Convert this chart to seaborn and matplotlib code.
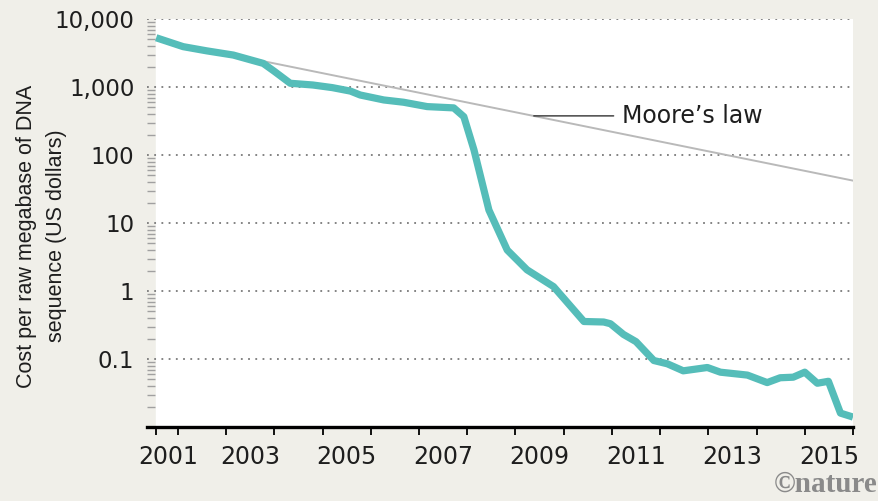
import numpy as np
import pandas as pd
import matplotlib.pyplot as plt
import seaborn as sns
from matplotlib.ticker import LogLocator, NullFormatter

# cost per raw megabase of DNA sequence (US dollars)
years = [2001.55, 2002.11, 2002.6, 2003.15, 2003.77, 2004.0, 2004.33, 2004.8,
         2005.2, 2005.58, 2005.78, 2006.27, 2006.68, 2007.17, 2007.72, 2007.93,
         2008.14, 2008.45, 2008.83, 2009.24, 2009.79, 2010.42, 2010.83, 2010.97,
         2011.24, 2011.5, 2011.87, 2012.15, 2012.48, 2012.98, 2013.25, 2013.81,
         2014.22, 2014.49, 2014.76, 2015.0, 2015.26, 2015.49, 2015.74, 2016.0]
cost = [5300, 3920, 3400, 2950, 2225, 1700, 1135, 1070,
        980, 870, 763, 645, 597, 515, 493, 366,
        119, 15.5, 4.0, 2.05, 1.16, 0.356, 0.35, 0.33,
        0.23, 0.18, 0.095, 0.085, 0.067, 0.075, 0.064, 0.058,
        0.045, 0.053, 0.054, 0.064, 0.044, 0.047, 0.016, 0.014]

# Moore's law reference line (halving roughly every two years)
moore_years = [2001.55, 2016.0]
moore_cost = [5000, 42]

ytick_vals = [0.1, 1, 10, 100, 1000, 10000]
ytick_labels = ['0.1', '1', '10', '100', '1,000', '10,000']
xlabels = ['2001', '2003', '2005', '2007', '2009', '2011', '2013', '2015']
xlabel_pos = [2001.8, 2003.5, 2005.5, 2007.5, 2009.5, 2011.5, 2013.5, 2015.5]

df = pd.DataFrame({'year': years, 'cost': cost})

bg = '#f0efe9'
teal = '#55bdb9'

sns.set_theme(style='white')
plt.rcParams['font.family'] = ['DejaVu Sans']

fig = plt.figure(figsize=(8.79, 5.01), dpi=100, facecolor=bg)
ax = fig.add_axes([147 / 879, 74 / 501, (853 - 147) / 879, 408 / 501])
ax.set_facecolor(bg)

ax.set_yscale('log')
ax.set_ylim(0.01, 10000)
ax.set_xlim(2001.36, 2016.0)
ax.axvspan(years[0], ax.get_xlim()[1], color='white', zorder=0)

sns.lineplot(x=moore_years, y=moore_cost, color='#b9b9b9', lw=1.4, ax=ax)
sns.lineplot(data=df, x='year', y='cost', color=teal, lw=5.2, ax=ax,
             solid_joinstyle='round', solid_capstyle='butt')

# y axis: dotted grid, gray minor ticks
ax.set_yticks(ytick_vals, labels=ytick_labels)
ax.yaxis.set_minor_locator(LogLocator(base=10, subs=np.arange(2, 10), numticks=30))
ax.yaxis.set_minor_formatter(NullFormatter())
ax.grid(axis='y', which='major', ls=(0, (1, 3)), color='#7a7a7a', lw=1.3)
ax.tick_params(axis='y', which='major', length=0, pad=9, labelsize=16.5, labelcolor='#1e1e1e')
ax.tick_params(axis='y', which='minor', left=True, direction='in', length=6, width=1, color='#a0a0a0')

# x axis: ticks at year boundaries, labels centred in odd years
ax.set_xticks([years[0]] + list(range(2002, 2017)))
ax.set_xticklabels([])
ax.set_xticks(xlabel_pos, labels=xlabels, minor=True)
ax.tick_params(axis='x', which='major', bottom=True, direction='out', length=6, width=1.3, color='black')
ax.tick_params(axis='x', which='minor', bottom=True, length=0, pad=13, labelsize=17, labelcolor='#1e1e1e')

for s in ['left', 'top', 'right']:
    ax.spines[s].set_visible(False)
ax.spines['bottom'].set_color('black')
ax.spines['bottom'].set_linewidth(2.4)

ax.set_xlabel('')
ax.set_ylabel('')

ax.annotate('Moore’s law', xy=(2009.38, 376), xytext=(2011.22, 376),
            va='center', ha='left', fontsize=17, color='#1e1e1e',
            arrowprops=dict(arrowstyle='-', color='#333333', lw=1, shrinkA=4, shrinkB=0))

fig.text(41.5 / 879, 1 - 236 / 501, 'Cost per raw megabase of DNA\nsequence (US dollars)',
         rotation=90, ha='center', va='center', multialignment='center', fontsize=15.5,
         family=['Liberation Sans', 'DejaVu Sans'], linespacing=1.55, color='#1e1e1e')

fig.text(0.998, 0.006, '©nature', ha='right', va='bottom', fontsize=21,
         color='#8a8a8a', family=['Liberation Serif', 'DejaVu Serif'], weight='bold')

fig.savefig('out.png', dpi=100, facecolor=bg)
